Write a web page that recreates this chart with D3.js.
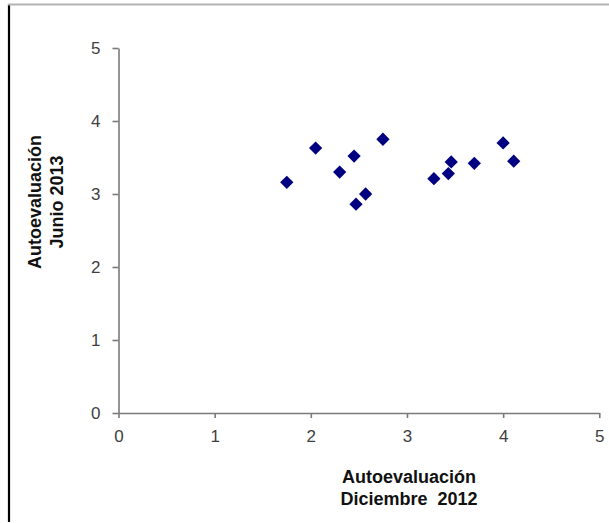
<!DOCTYPE html>
<html>
<head>
<meta charset="utf-8">
<script src="https://cdn.jsdelivr.net/npm/d3@7"></script>
<style>
  body { margin: 0; background: #fff; }
  svg { display: block; font-family: "Liberation Sans", Arial, sans-serif; }
  .tick text { fill: #404040; font-size: 17px; }
  .domain, .tick line { stroke: #7a7a7a; stroke-width: 1.6px; }
  .axis-title { font-weight: bold; font-size: 18px; fill: #111; }
</style>
</head>
<body>
<div id="chart"></div>
<script>
// Autoevaluación Diciembre 2012 (x) vs Junio 2013 (y)
const dic2012 = [1.75, 2.05, 2.30, 2.45, 2.75, 2.47, 2.57, 3.28, 3.43, 3.46, 3.70, 4.00, 4.11];
const jun2013 = [3.16, 3.63, 3.30, 3.52, 3.75, 2.86, 3.00, 3.21, 3.28, 3.44, 3.42, 3.70, 3.45];
const xTicks = [0, 1, 2, 3, 4, 5];
const yTicks = [0, 1, 2, 3, 4, 5];
const xTitle = ['Autoevaluación', 'Diciembre  2012'];
const yTitle = ['Autoevaluación', 'Junio 2013'];

const width = 609, height = 523;
const margin = { top: 48, right: 10, bottom: 110, left: 118.5 };

const svg = d3.select('#chart')
  .append('svg')
  .attr('width', width)
  .attr('height', height);

// frame lines (left black, top grey)
svg.append('line')
  .attr('x1', 9).attr('x2', 9).attr('y1', 4).attr('y2', 522)
  .attr('stroke', '#000').attr('stroke-width', 2.2);
svg.append('line')
  .attr('x1', 8).attr('x2', width).attr('y1', 4.5).attr('y2', 4.5)
  .attr('stroke', '#b4b4b4').attr('stroke-width', 2);

const x = d3.scaleLinear().domain([0, 5]).range([margin.left, 599.3]);
const y = d3.scaleLinear().domain([0, 5]).range([413, margin.top]);

svg.append('g')
  .attr('transform', `translate(0,${y(0)})`)
  .call(d3.axisBottom(x).tickValues(xTicks).tickSize(5).tickSizeOuter(0).tickPadding(12).tickFormat(d3.format('d')));

svg.append('g')
  .attr('transform', `translate(${x(0)},0)`)
  .call(d3.axisLeft(y).tickValues(yTicks).tickSize(6).tickSizeOuter(0).tickPadding(12).tickFormat(d3.format('d')));

const points = dic2012.map((d, i) => ({ x: d, y: jun2013[i] }));

svg.append('g')
  .selectAll('path')
  .data(points)
  .join('path')
  .attr('d', d3.symbol(d3.symbolSquare, 88))
  .attr('transform', d => `translate(${x(d.x)},${y(d.y)}) rotate(45)`)
  .attr('fill', '#000080');

// x axis title
svg.append('text')
  .attr('class', 'axis-title')
  .attr('text-anchor', 'middle')
  .selectAll('tspan')
  .data(xTitle)
  .join('tspan')
  .attr('x', 409)
  .attr('y', (d, i) => 483 + i * 22)
  .attr('xml:space', 'preserve')
  .text(d => d);

// y axis title
svg.append('text')
  .attr('class', 'axis-title')
  .attr('text-anchor', 'middle')
  .attr('transform', 'translate(0,202) rotate(-90)')
  .selectAll('tspan')
  .data(yTitle)
  .join('tspan')
  .attr('x', 0)
  .attr('y', (d, i) => 41 + i * 22)
  .text(d => d);
</script>
</body>
</html>
